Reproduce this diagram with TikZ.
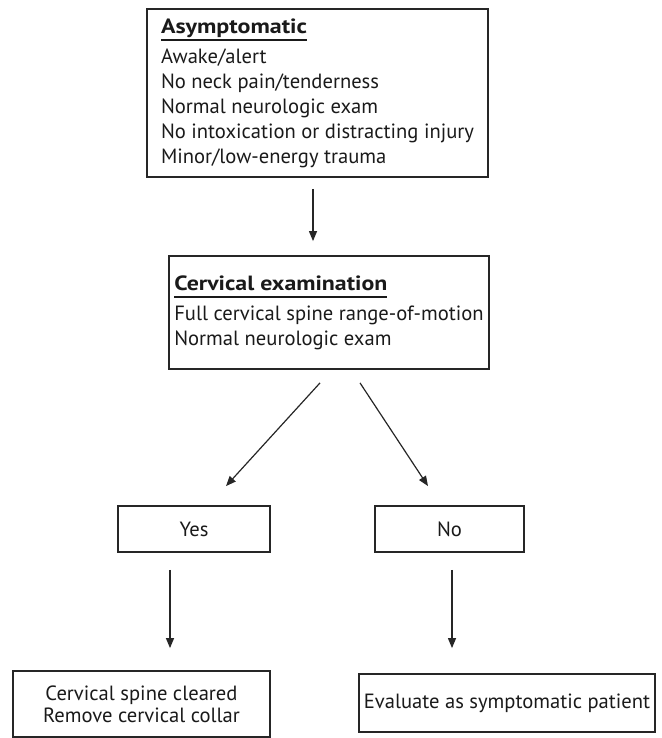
\documentclass[tikz,border=0pt]{standalone}
\usepackage{graphicx}
\usepackage{fontspec}
\setmainfont{PT Sans}
\usetikzlibrary{arrows.meta}

\definecolor{linegray}{HTML}{262626}
\definecolor{inkgray}{HTML}{1A1A1A}

% body size is fitted so that the widest line of the first box is 313pt long
\newlength\probe
\AtBeginDocument{%
  \settowidth\probe{\normalfont\fontsize{10pt}{12pt}\selectfont No intoxication or distracting injury}%
  \pgfmathsetmacro\bodysize{10*313/\probe}%
  \xdef\bodysize{\bodysize}}
\newcommand\bodyfont{\fontsize{\bodysize pt}{25pt}\selectfont}

% underlined bold heading, set to a given width
\newsavebox\headbox
\newcommand\ulhead[2]{\sbox\headbox{\resizebox{#1}{\height}{\textbf{#2}}}%
  \rlap{\rule[-7.5pt]{\wd\headbox}{1.6pt}}\usebox\headbox}

\tikzset{
  box/.style={draw=linegray, line width=1.8pt, rectangle, inner sep=0pt,
              font=\bodyfont, text=inkgray},
  arr/.style={draw=linegray, line width=1.2pt,
              -{Triangle[length=10pt,width=8pt]}},
}

\begin{document}
\begin{tikzpicture}[x=1pt,y=-1pt]
\useasboundingbox (0,0) rectangle (661,738);

% boxes
\node[box, align=left, minimum width=341pt, minimum height=168pt] (asym) at (317.5,93)
  {\ulhead{146pt}{Asymptomatic}\\[5pt]
   Awake/alert\\
   No neck pain/tenderness\\
   Normal neurologic exam\\
   No intoxication or distracting injury\\
   Minor/low-energy trauma};

\node[box, align=left, minimum width=320pt, minimum height=113pt] (exam) at (329,312.5)
  {\ulhead{213pt}{Cervical examination}\\[5pt]
   Full cervical spine range-of-motion\\
   Normal neurologic exam};

\node[box, minimum width=152pt, minimum height=46pt] (yes) at (194,529) {Yes};
\node[box, minimum width=149pt, minimum height=46pt] (no) at (449.5,529) {No};

\node[box, align=center, minimum width=257pt, minimum height=66pt,
      font=\fontsize{\bodysize pt}{22pt}\selectfont] (cleared) at (141.5,704)
  {Cervical spine cleared\\Remove cervical collar};

\node[box, minimum width=296pt, minimum height=58pt] (evaluate) at (507,703)
  {Evaluate as symptomatic patient};

% connectors
\draw[arr] ([xshift=-4.5pt,yshift=-11pt]asym.south) -- ([xshift=-16pt,yshift=14pt]exam.north);
\draw[arr] ([xshift=-9pt,yshift=-13pt]exam.south) -- ([xshift=32pt,yshift=19pt]yes.north);
\draw[arr] ([xshift=31pt,yshift=-13pt]exam.south) -- ([xshift=-21.5pt,yshift=19pt]no.north);
\draw[arr] ([xshift=-24pt,yshift=-17pt]yes.south) -- ([xshift=28.5pt,yshift=22pt]cleared.north);
\draw[arr] ([xshift=2.5pt,yshift=-17pt]no.south) -- ([xshift=-55pt,yshift=25pt]evaluate.north);
\end{tikzpicture}
\end{document}
